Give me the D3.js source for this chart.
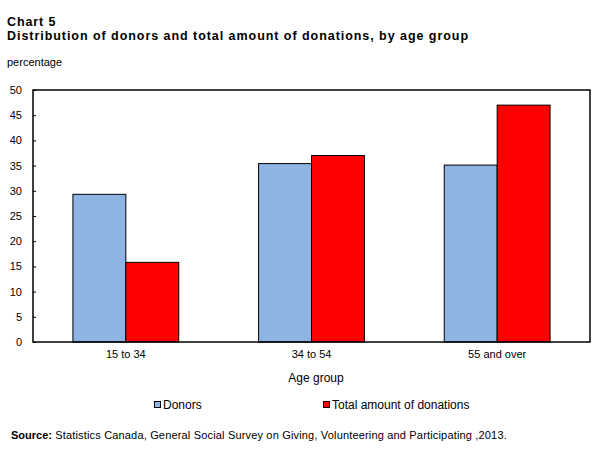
<!DOCTYPE html>
<html>
<head>
<meta charset="utf-8">
<script src="https://cdn.jsdelivr.net/npm/d3@7"></script>
<style>
  body { margin: 0; background: #fff; }
  text { font-family: Arial, "Liberation Sans", sans-serif; fill: #000; }
</style>
</head>
<body>
<div id="chart"></div>
<script>
var svgWidth = 607;
var svgHeight = 456;

var margin = { top: 90, right: 17, bottom: 114, left: 33 };

var chartWidth = svgWidth - margin.left - margin.right;
var chartHeight = svgHeight - margin.top - margin.bottom;

// data
var ageGroups = ["15 to 34", "34 to 54", "55 and over"];
var seriesNames = ["Donors", "Total amount of donations"];
var donors = [29.3, 35.4, 35.1];
var donations = [15.8, 37.0, 47.0];
var yTicks = [0, 5, 10, 15, 20, 25, 30, 35, 40, 45, 50];
var colors = ["#8EB4E3", "#FF0000"];

var rows = ageGroups.map(function(g, i) {
  return { group: g, values: [donors[i], donations[i]] };
});

var svg = d3.select("#chart")
  .append("svg")
  .attr("width", svgWidth)
  .attr("height", svgHeight);

// titles
svg.append("text")
  .attr("x", 7).attr("y", 26)
  .style("font-size", "12.5px").style("font-weight", "bold")
  .style("letter-spacing", "0.9px")
  .text("Chart 5");
svg.append("text")
  .attr("x", 7).attr("y", 40)
  .style("font-size", "12.5px").style("font-weight", "bold")
  .style("letter-spacing", "0.95px")
  .text("Distribution of donors and total amount of donations, by age group");
svg.append("text")
  .attr("x", 7).attr("y", 66)
  .style("font-size", "11px")
  .text("percentage");

var chartGroup = svg.append("g")
  .attr("transform", `translate(${margin.left}, ${margin.top})`);

var x0 = d3.scaleBand()
  .domain(ageGroups)
  .range([0, chartWidth])
  .paddingInner(0.43)
  .paddingOuter(0.215);

var x1 = d3.scaleBand()
  .domain(d3.range(seriesNames.length))
  .range([0, x0.bandwidth()]);

var yLinearScale = d3.scaleLinear()
  .domain([0, 50])
  .range([chartHeight, 0]);

// bars
var groups = chartGroup.selectAll(".grp")
  .data(rows)
  .enter()
  .append("g")
  .attr("transform", d => `translate(${x0(d.group)}, 0)`);

groups.selectAll("rect")
  .data(d => d.values)
  .enter()
  .append("rect")
  .attr("x", (d, i) => x1(i))
  .attr("y", d => yLinearScale(d))
  .attr("width", x1.bandwidth())
  .attr("height", d => chartHeight - yLinearScale(d))
  .attr("fill", (d, i) => colors[i])
  .attr("stroke", "#000")
  .attr("stroke-width", 1);

// frame
chartGroup.append("rect")
  .attr("x", 0).attr("y", 0)
  .attr("width", chartWidth).attr("height", chartHeight)
  .attr("fill", "none")
  .attr("stroke", "#000")
  .attr("stroke-width", 1.5);

// left axis, ticks pointing inward
var leftAxis = d3.axisLeft(yLinearScale)
  .tickValues(yTicks)
  .tickSizeInner(-3)
  .tickSizeOuter(0)
  .tickPadding(11);

var yAxisG = chartGroup.append("g").call(leftAxis);
yAxisG.select(".domain").remove();
yAxisG.selectAll("text")
  .style("font-family", "Arial, 'Liberation Sans', sans-serif")
  .style("font-size", "11px")
  .attr("fill", "#000");
yAxisG.selectAll("line").attr("stroke", "#000");

// bottom axis labels
var bottomAxis = d3.axisBottom(x0).tickSize(0).tickPadding(8);
var xAxisG = chartGroup.append("g")
  .attr("transform", `translate(0, ${chartHeight})`)
  .call(bottomAxis);
xAxisG.select(".domain").remove();
xAxisG.selectAll("text")
  .style("font-family", "Arial, 'Liberation Sans', sans-serif")
  .style("font-size", "11px")
  .attr("fill", "#000");

svg.append("text")
  .attr("x", 316).attr("y", 382)
  .attr("text-anchor", "middle")
  .style("font-size", "12px")
  .text("Age group");

// legend
var legendX = [154, 323];
var legend = svg.selectAll(".legend")
  .data(seriesNames)
  .enter()
  .append("g")
  .attr("transform", (d, i) => `translate(${legendX[i]}, 401)`);

legend.append("rect")
  .attr("x", 0.5).attr("y", 0.5)
  .attr("width", 6).attr("height", 6)
  .attr("fill", (d, i) => colors[i])
  .attr("stroke", "#000")
  .attr("stroke-width", 1);

legend.append("text")
  .attr("x", 9).attr("y", 8)
  .style("font-size", "12px")
  .text(d => d);

// source
var src = svg.append("text")
  .attr("x", 11).attr("y", 439)
  .style("font-size", "11px");
src.append("tspan").style("font-weight", "bold").text("Source:");
src.append("tspan").style("letter-spacing", "0.17px")
  .text(" Statistics Canada, General Social Survey on Giving, Volunteering and Participating ,2013.");
</script>
</body>
</html>
